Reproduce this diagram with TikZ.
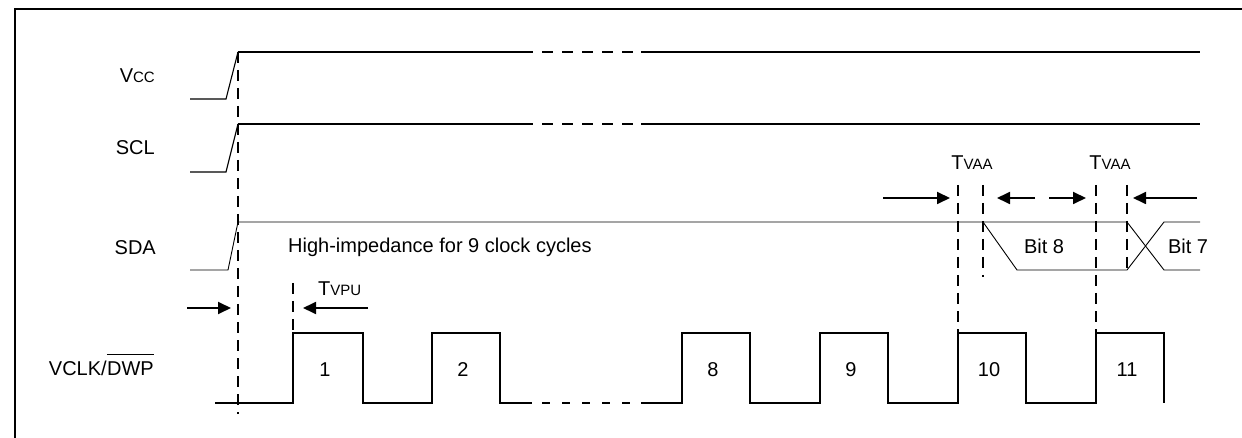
\documentclass[tikz,border=0pt]{standalone}
\usepackage{fontspec}
\setmainfont{Liberation Sans}
\usetikzlibrary{arrows.meta}
\newcommand\smc[1]{{\fontsize{15}{18}\selectfont #1}}
\begin{document}
\begin{tikzpicture}[x=1pt,y=-1pt,
  lbl/.style={font=\fontsize{20}{24}\selectfont, inner sep=0pt},
  thickw/.style={line width=2.2pt},
  thinw/.style={line width=1.1pt},
  sdaw/.style={line width=0.9pt},
  clkw/.style={line width=2pt},
  vdash/.style={line width=1.8pt, dash pattern=on 11pt off 7pt},
  meas/.style={line width=1.8pt, -{Triangle[length=13pt,width=12pt]}},
]
\useasboundingbox (0,0) rectangle (1242,438);
% frame
\draw[line width=2.2pt] (15,445) -- (15,9) -- (1250,9);

% signal labels
\node[lbl, anchor=base east] (vcc) at (155,83) {V\smc{CC}};
\node[lbl, anchor=base east] (scl) at (155,155) {SCL};
\node[lbl, anchor=base east] (sda) at (156,255) {SDA};
\node[lbl, anchor=base east] (dwp) at (154,375) {DWP};
\node[lbl, anchor=base east] (vclk) at (dwp.base west) {VCLK/};
\draw[line width=1.2pt] (dwp.north west) ++(0,-6.5) coordinate (ovl) -- (ovl -| dwp.east);

% Vcc
\draw[thinw] (190,99) -- (226,99) -- (238,52);
\draw[thickw] (238,52) -- (533,52) (641,52) -- (1200,52);
\draw[thickw, dash pattern=on 11pt off 9pt] (542,52) -- (633,52);
% SCL
\draw[thinw] (190,172) -- (226,172) -- (238,124);
\draw[thickw] (238,124) -- (533,124) (641,124) -- (1200,124);
\draw[thickw, dash pattern=on 11pt off 9pt] (542,124) -- (633,124);
% SDA
\draw[sdaw] (190,270) -- (228,270) -- (238,222) -- (1127,222) -- (1164,270) -- (1200,270);
\draw[sdaw] (983,222) -- (1017,270) -- (1127,270) -- (1164,222) -- (1200,222);
\node[lbl, anchor=base west] (hiz) at (288,253) {High-impedance for 9 clock cycles};
\node[lbl, anchor=base] (b8) at (1044,254) {Bit 8};
\node[lbl, anchor=base] (b7) at (1188,254) {Bit 7};

% VCLK
\draw[clkw] (215,403) -- (293,403) |- (363,333) |- (432,403) |- (500,333) |- (532,403);
\draw[clkw, dash pattern=on 8pt off 12pt] (542,403) -- (630,403);
\draw[clkw] (641,403) -- (682,403) |- (750,333) |- (820,403) |- (888,333) |- (958,403)
  |- (1026,333) |- (1096,403) |- (1164,333) -- (1164,403);
\node[lbl, anchor=base] (p1) at (325,376) {1};
\node[lbl, anchor=base] (p2) at (463,376) {2};
\node[lbl, anchor=base] (p8) at (713,376) {8};
\node[lbl, anchor=base] (p9) at (851,376) {9};
\node[lbl, anchor=base] (p10) at (989,376) {10};
\node[lbl, anchor=base] (p11) at (1127,376) {11};

% dashed markers
\draw[vdash] (238,52) -- (238,414);
\draw[vdash] (293,283) -- (293,333);
\draw[vdash] (958,185) -- (958,333);
\draw[vdash] (983,185) -- (983,277);
\draw[vdash] (1096,185) -- (1096,333);
\draw[vdash] (1127,185) -- (1127,270);

% timing arrows
\coordinate (t1a) at (187,308); \coordinate (t1b) at (231,308);
\coordinate (t2a) at (368,308); \coordinate (t2b) at (303,308);
\draw[meas] (t1a) -- (t1b);
\draw[meas] (t2a) -- (t2b);
\node[lbl, anchor=base west] (tvpu) at (318,295) {T\smc{VPU}};

\coordinate (a1a) at (883,198); \coordinate (a1b) at (950,198);
\coordinate (a2a) at (1035,198); \coordinate (a2b) at (997,198);
\coordinate (a3a) at (1049,198); \coordinate (a3b) at (1086,198);
\coordinate (a4a) at (1197,198); \coordinate (a4b) at (1133,198);
\draw[meas] (a1a) -- (a1b);
\draw[meas] (a2a) -- (a2b);
\draw[meas] (a3a) -- (a3b);
\draw[meas] (a4a) -- (a4b);
\node[lbl, anchor=base] (tvaa1) at (972,170) {T\smc{VAA}};
\node[lbl, anchor=base] (tvaa2) at (1110,170) {T\smc{VAA}};
\end{tikzpicture}
\end{document}
